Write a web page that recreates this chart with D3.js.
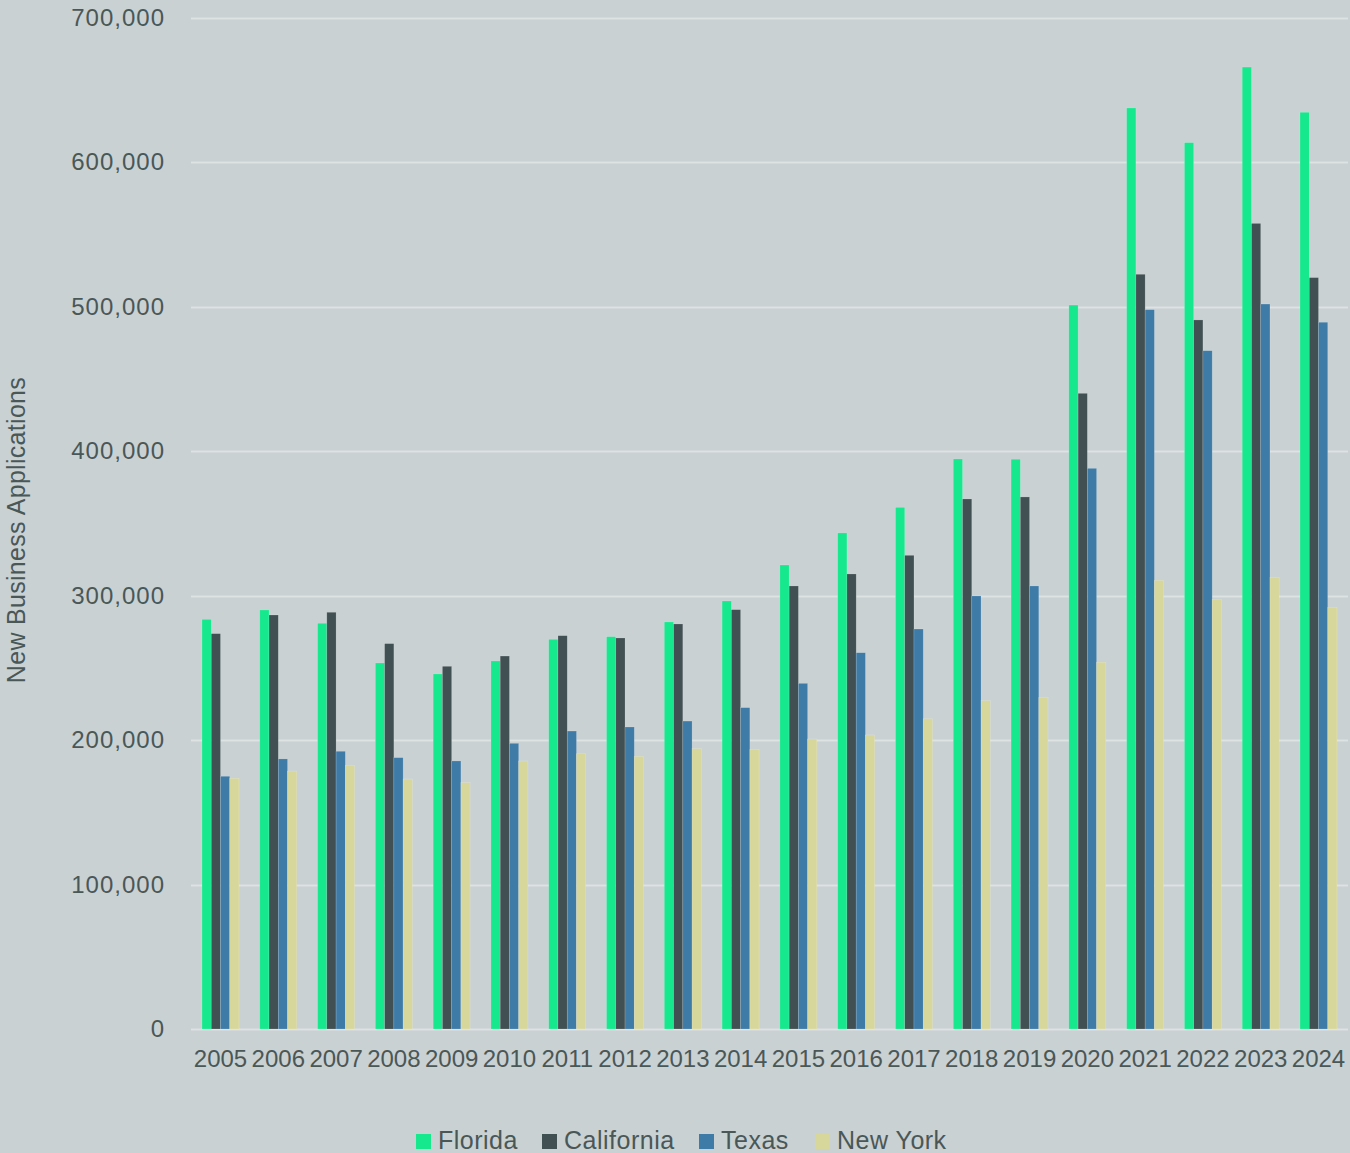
<!DOCTYPE html>
<html>
<head>
<meta charset="utf-8">
<script src="https://cdn.jsdelivr.net/npm/d3@7"></script>
<style>
  body { margin: 0; background: #c9d1d3; }
  svg text { font-family: "Liberation Sans", Arial, sans-serif; fill: #4a5757; }
</style>
</head>
<body>
<div id="chart"></div>
<script>
var years = ["2005","2006","2007","2008","2009","2010","2011","2012","2013","2014",
             "2015","2016","2017","2018","2019","2020","2021","2022","2023","2024"];
var states = ["Florida", "California", "Texas", "New York"];
var florida    = [283500,290000,280800,253300,245700,254700,269700,271500,281700,296200,
                  321100,343300,361000,394500,394300,501000,637400,613400,665700,634400];
var california = [273600,286500,288400,266700,251000,258100,272200,270600,280300,290200,
                  306600,314900,327800,366800,368200,439900,522300,490700,557500,520000];
var texas      = [174900,186900,192200,187800,185500,197700,206200,209000,213100,222400,
                  239200,260400,276800,299700,306600,388000,497800,469400,501700,489100];
var newYork    = [173500,178500,182500,173000,170500,185500,190500,188700,194000,193300,
                  200700,203500,214700,227200,229500,253800,310500,297400,312600,291800];
var yTicks = [0,100000,200000,300000,400000,500000,600000,700000];
var colors = ["#16e88e", "#415053", "#3e7ba7", "#d8d79b"];

var series = [florida, california, texas, newYork];
var width = 1350, height = 1153;
var svg = d3.select("#chart").append("svg").attr("width", width).attr("height", height);

var x = d3.scaleBand().domain(years).range([191.6, 1347.4]).paddingInner(0.36).paddingOuter(0.18);
var xs = d3.scaleBand().domain(states).range([0, x.bandwidth()]);
var y = d3.scaleLinear().domain([0, 700000]).range([1029, 17.5]);

// gridlines
svg.append("g").selectAll("line").data(yTicks).join("line")
  .attr("x1", 191).attr("x2", 1348)
  .attr("y1", function(d){ return Math.round(y(d)) + 0.5; })
  .attr("y2", function(d){ return Math.round(y(d)) + 0.5; })
  .attr("stroke", "#dde2e3").attr("stroke-width", 2);

// y axis labels
var yaxis = d3.axisLeft(y).tickValues(yTicks).tickSize(0).tickPadding(0)
  .tickFormat(d3.format(","));
svg.append("g").attr("transform", "translate(165,0)").call(yaxis)
  .call(function(g){ g.select(".domain").remove(); })
  .selectAll("text").attr("font-size", 24).attr("font-family", null).attr("fill", null)
  .attr("letter-spacing", 1);

// x axis labels
var xaxis = d3.axisBottom(x).tickSize(0).tickPadding(0);
svg.append("g").attr("transform", "translate(0,1050)").call(xaxis)
  .call(function(g){ g.select(".domain").remove(); })
  .selectAll("text").attr("font-size", 24).attr("font-family", null).attr("fill", null);

// bars
var groups = svg.append("g").selectAll("g").data(years).join("g")
  .attr("transform", function(d){ return "translate(" + x(d) + ",0)"; });
groups.selectAll("rect").data(function(d, i){
    return states.map(function(s, j){ return {state: s, value: series[j][i], c: colors[j]}; });
  }).join("rect")
  .attr("x", function(d){ return xs(d.state); })
  .attr("width", xs.bandwidth())
  .attr("y", function(d){ return y(d.value); })
  .attr("height", function(d){ return y(0) - y(d.value); })
  .attr("fill", function(d){ return d.c; })
  .attr("stroke", "rgba(255,255,255,0.25)").attr("stroke-width", 0.6);

// y title
svg.append("text")
  .attr("transform", "translate(25,530) rotate(-90)")
  .attr("text-anchor", "middle")
  .attr("font-size", 25)
  .attr("letter-spacing", 0.3)
  .text("New Business Applications");

// legend
var legendX = [416, 542, 699, 815];
var legend = svg.append("g").selectAll("g").data(states).join("g")
  .attr("transform", function(d, i){ return "translate(" + legendX[i] + ",1134)"; });
legend.append("rect").attr("width", 15).attr("height", 15)
  .attr("fill", function(d, i){ return colors[i]; });
legend.append("text").attr("x", 22).attr("y", 15).attr("font-size", 25)
  .attr("letter-spacing", 0.5)
  .text(function(d){ return d; });
</script>
</body>
</html>
